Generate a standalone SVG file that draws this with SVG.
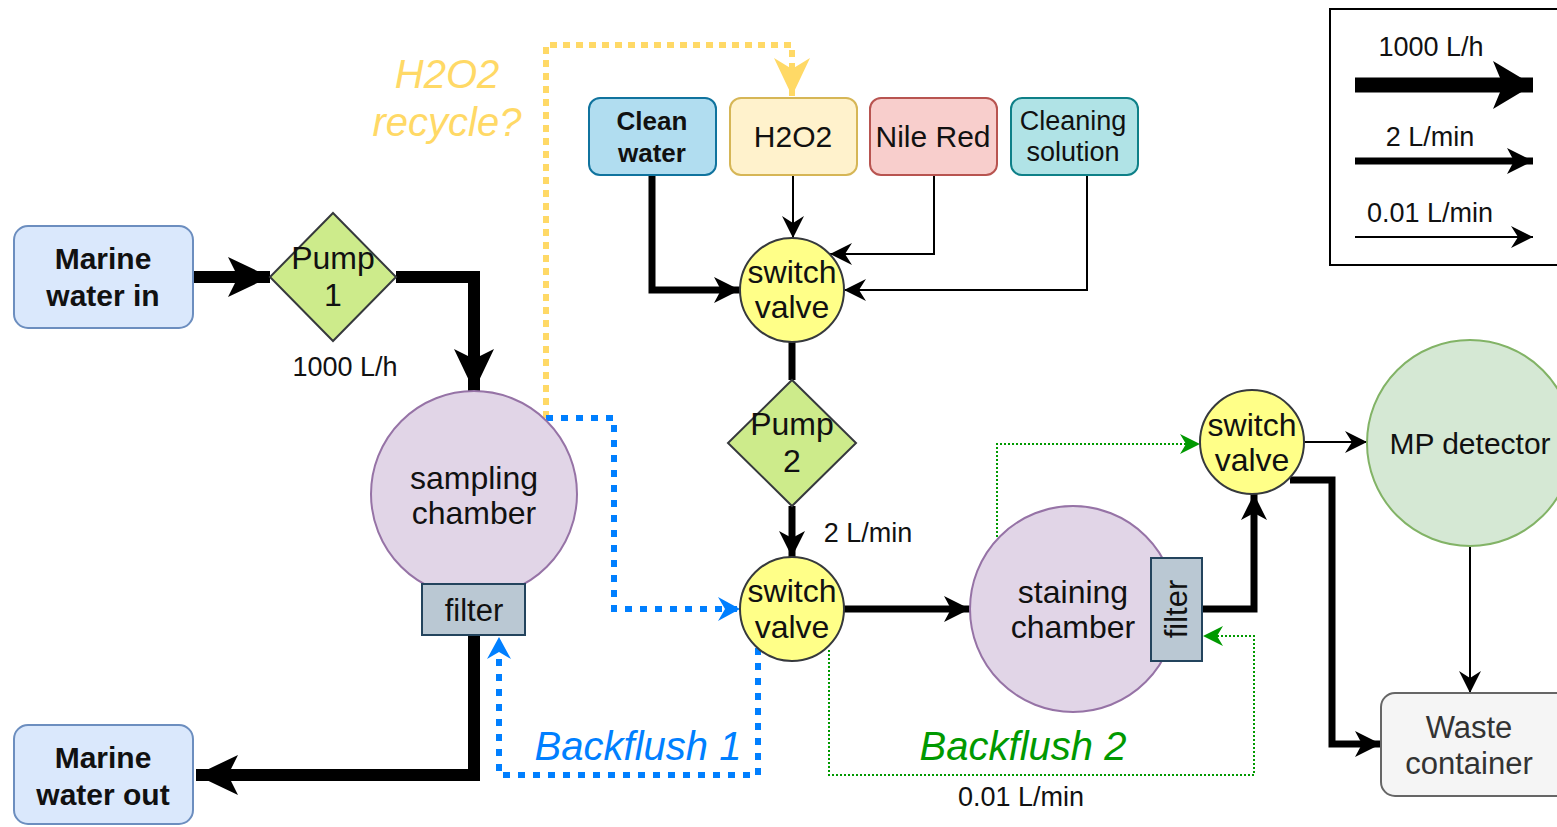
<svg xmlns="http://www.w3.org/2000/svg" width="1557" height="827" viewBox="0 0 1557 827">
<style>
text{font-family:"Liberation Sans",Arial,sans-serif;fill:#111;text-anchor:middle}
.b{font-weight:bold}
.t{font-size:32px}
.s{font-size:27px}
.valve{fill:#ffff88;stroke:#36393d;stroke-width:2}
.pump{fill:#cdeb8b;stroke:#36393d;stroke-width:2}
.cham{fill:#e1d5e7;stroke:#9673a6;stroke-width:2}
.filt{fill:#bac8d3;stroke:#23445d;stroke-width:2}
.c{fill:none;stroke:#000;stroke-linejoin:miter}
.w1{stroke-width:12}
.w2{stroke-width:7}
.w3{stroke-width:2}
</style>
<defs>
<marker id="aL" markerUnits="userSpaceOnUse" viewBox="-45 -25 50 50" markerWidth="50" markerHeight="50" refX="0" refY="0" orient="auto"><path d="M0,0 L-42,-20 L-32,0 L-42,20 Z" fill="#000"/></marker>
<marker id="aXL" markerUnits="userSpaceOnUse" viewBox="-45 -28 50 56" markerWidth="50" markerHeight="56" refX="0" refY="0" orient="auto"><path d="M0,0 L-40,-24 L-30,0 L-40,24 Z" fill="#000"/></marker>
<marker id="aM" markerUnits="userSpaceOnUse" viewBox="-30 -16 34 32" markerWidth="34" markerHeight="32" refX="0" refY="0" orient="auto"><path d="M0,0 L-26,-13 L-19,0 L-26,13 Z" fill="#000"/></marker>
<marker id="aS" markerUnits="userSpaceOnUse" viewBox="-26 -13 30 26" markerWidth="30" markerHeight="26" refX="0" refY="0" orient="auto"><path d="M0,0 L-22,-11 L-15,0 L-22,11 Z" fill="#000"/></marker>
<marker id="aB" markerUnits="userSpaceOnUse" viewBox="-26 -14 30 28" markerWidth="30" markerHeight="28" refX="0" refY="0" orient="auto"><path d="M0,0 L-22,-12 L-15,0 L-22,12 Z" fill="#007fff"/></marker>
<marker id="aG" markerUnits="userSpaceOnUse" viewBox="-24 -12 28 24" markerWidth="28" markerHeight="24" refX="0" refY="0" orient="auto"><path d="M0,0 L-20,-10 L-14,0 L-20,10 Z" fill="#009900"/></marker>
<marker id="aY" markerUnits="userSpaceOnUse" viewBox="-42 -22 46 44" markerWidth="46" markerHeight="44" refX="0" refY="0" orient="auto"><path d="M0,0 L-38,-18 L-27,0 L-38,18 Z" fill="#ffd966"/></marker>
</defs>

<g id="connectors">
<line class="c w1" x1="193" y1="277" x2="270" y2="277" marker-end="url(#aL)"/>
<path class="c w1" d="M396,277 H474 V391" marker-end="url(#aL)"/>
<path class="c w1" d="M474,635 V775 H196" marker-end="url(#aL)"/>
<path class="c w2" d="M652,175 V290 H740" marker-end="url(#aM)"/>
<line class="c w3" x1="793" y1="175" x2="793" y2="238" marker-end="url(#aS)"/>
<path class="c w3" d="M934,175 V254 H830" marker-end="url(#aS)"/>
<path class="c w3" d="M1087,175 V290 H844" marker-end="url(#aS)"/>
<line class="c w2" x1="792" y1="342" x2="792" y2="380"/>
<line class="c w2" x1="792" y1="506" x2="792" y2="557" marker-end="url(#aM)"/>
<line class="c w2" x1="844" y1="609" x2="970" y2="609" marker-end="url(#aM)"/>
<path class="c w2" d="M1202,609 H1254 V494" marker-end="url(#aM)"/>
<line class="c w3" x1="1304" y1="442" x2="1367" y2="442" marker-end="url(#aS)"/>
<path class="c w2" d="M1290,480 H1332 V744 H1381" marker-end="url(#aM)"/>
<line class="c w3" x1="1470" y1="546" x2="1470" y2="693" marker-end="url(#aS)"/>
<path d="M546,418 V45 H792 V96" fill="none" stroke="#ffd966" stroke-width="6" stroke-dasharray="7 6" marker-end="url(#aY)"/>
<path d="M546,418 H614 V609 H740" fill="none" stroke="#007fff" stroke-width="6" stroke-dasharray="7 8" marker-end="url(#aB)"/>
<path d="M758,648 V775 H499 V637" fill="none" stroke="#007fff" stroke-width="6" stroke-dasharray="7 8" marker-end="url(#aB)"/>
<path d="M997,537 V444 H1200" fill="none" stroke="#009900" stroke-width="2" stroke-dasharray="2 2" marker-end="url(#aG)"/>
<path d="M829,650 V775 H1254 V636 H1203" fill="none" stroke="#009900" stroke-width="2" stroke-dasharray="2 2" marker-end="url(#aG)"/>
</g>

<g id="marine-in"><rect x="14" y="226" width="179" height="102" rx="14" fill="#dae8fc" stroke="#6c8ebf" stroke-width="2"/><text class="b" font-size="30" x="103" y="269">Marine</text><text class="b" font-size="30" x="103" y="306">water in</text></g>
<g id="marine-out"><rect x="14" y="725" width="179" height="99" rx="14" fill="#dae8fc" stroke="#6c8ebf" stroke-width="2"/><text class="b" font-size="30" x="103" y="768">Marine</text><text class="b" font-size="30" x="103" y="805">water out</text></g>
<g id="pump1"><polygon class="pump" points="333,213 396,277 333,341 270,277"/><text class="t" x="333" y="269">Pump</text><text class="t" x="333" y="306">1</text></g>
<g id="lbl-1000"><text class="s" x="345" y="376">1000 L/h</text></g>
<g id="sampling"><circle class="cham" cx="474" cy="494" r="103"/><text class="t" x="474" y="489">sampling</text><text class="t" x="474" y="524">chamber</text></g>
<g id="filter1"><rect class="filt" x="422" y="584" width="103" height="51"/><text font-size="31" x="474" y="621">filter</text></g>

<g id="h2o2-recycle"><text font-size="40" font-style="italic" x="447" y="88" style="fill:#ffd966">H2O2</text><text font-size="40" font-style="italic" x="447" y="136" style="fill:#ffd966">recycle?</text></g>

<g id="clean-water"><rect x="589" y="98" width="127" height="77" rx="11" fill="#b1ddf0" stroke="#10739e" stroke-width="2"/><text class="b" font-size="26" x="652" y="130">Clean</text><text class="b" font-size="26" x="652" y="162">water</text></g>
<g id="h2o2"><rect x="730" y="98" width="127" height="77" rx="11" fill="#fff2cc" stroke="#d6b656" stroke-width="2"/><text font-size="30" x="793" y="147">H2O2</text></g>
<g id="nile-red"><rect x="870" y="98" width="127" height="77" rx="11" fill="#f8cecc" stroke="#b85450" stroke-width="2"/><text font-size="30" x="933" y="147">Nile Red</text></g>
<g id="cleaning"><rect x="1011" y="98" width="127" height="77" rx="11" fill="#b0e3e6" stroke="#0e8088" stroke-width="2"/><text font-size="27" x="1073" y="130">Cleaning</text><text font-size="27" x="1073" y="161">solution</text></g>

<g id="valve1"><circle class="valve" cx="792" cy="290" r="52"/><text class="t" x="792" y="283">switch</text><text class="t" x="792" y="318">valve</text></g>
<g id="pump2"><polygon class="pump" points="792,380 856,443 792,506 728,443"/><text class="t" x="792" y="435">Pump</text><text class="t" x="792" y="472">2</text></g>
<g id="lbl-2"><text class="s" x="868" y="542">2 L/min</text></g>
<g id="valve2"><circle class="valve" cx="792" cy="609" r="52"/><text class="t" x="792" y="602">switch</text><text class="t" x="792" y="638">valve</text></g>
<g id="staining"><circle class="cham" cx="1073" cy="609" r="103"/><text class="t" x="1073" y="603">staining</text><text class="t" x="1073" y="638">chamber</text></g>
<g id="filter2"><rect class="filt" x="1151" y="558" width="51" height="103"/><text font-size="31" transform="translate(1187,609) rotate(-90)">filter</text></g>
<g id="valve3"><circle class="valve" cx="1252" cy="442" r="52"/><text class="t" x="1252" y="436">switch</text><text class="t" x="1252" y="471">valve</text></g>
<g id="mp-detector"><circle cx="1470" cy="443" r="103" fill="#d5e8d4" stroke="#82b366" stroke-width="2"/><text font-size="30" x="1470" y="454">MP detector</text></g>
<g id="waste"><rect x="1381" y="693" width="190" height="103" rx="14" fill="#f5f5f5" stroke="#666666" stroke-width="2"/><text font-size="31" x="1469" y="738" style="fill:#333">Waste</text><text font-size="31" x="1469" y="774" style="fill:#333">container</text></g>

<g id="backflush1"><text font-size="40" font-style="italic" x="638" y="760" style="fill:#007fff">Backflush 1</text></g>
<g id="backflush2"><text font-size="40" font-style="italic" x="1023" y="760" style="fill:#009900">Backflush 2</text></g>
<g id="lbl-001"><text class="s" x="1021" y="806">0.01 L/min</text></g>

<g id="legend">
<rect x="1330" y="9" width="240" height="256" fill="#fff" stroke="#000" stroke-width="2"/>
<text class="s" x="1431" y="56">1000 L/h</text>
<line class="c" stroke-width="15" x1="1355" y1="85" x2="1533" y2="85" marker-end="url(#aXL)"/>
<text class="s" x="1430" y="146">2 L/min</text>
<line class="c w2" x1="1355" y1="161" x2="1533" y2="161" marker-end="url(#aM)"/>
<text class="s" x="1430" y="222">0.01 L/min</text>
<line class="c w3" x1="1355" y1="237" x2="1533" y2="237" marker-end="url(#aS)"/>
</g>
</svg>
